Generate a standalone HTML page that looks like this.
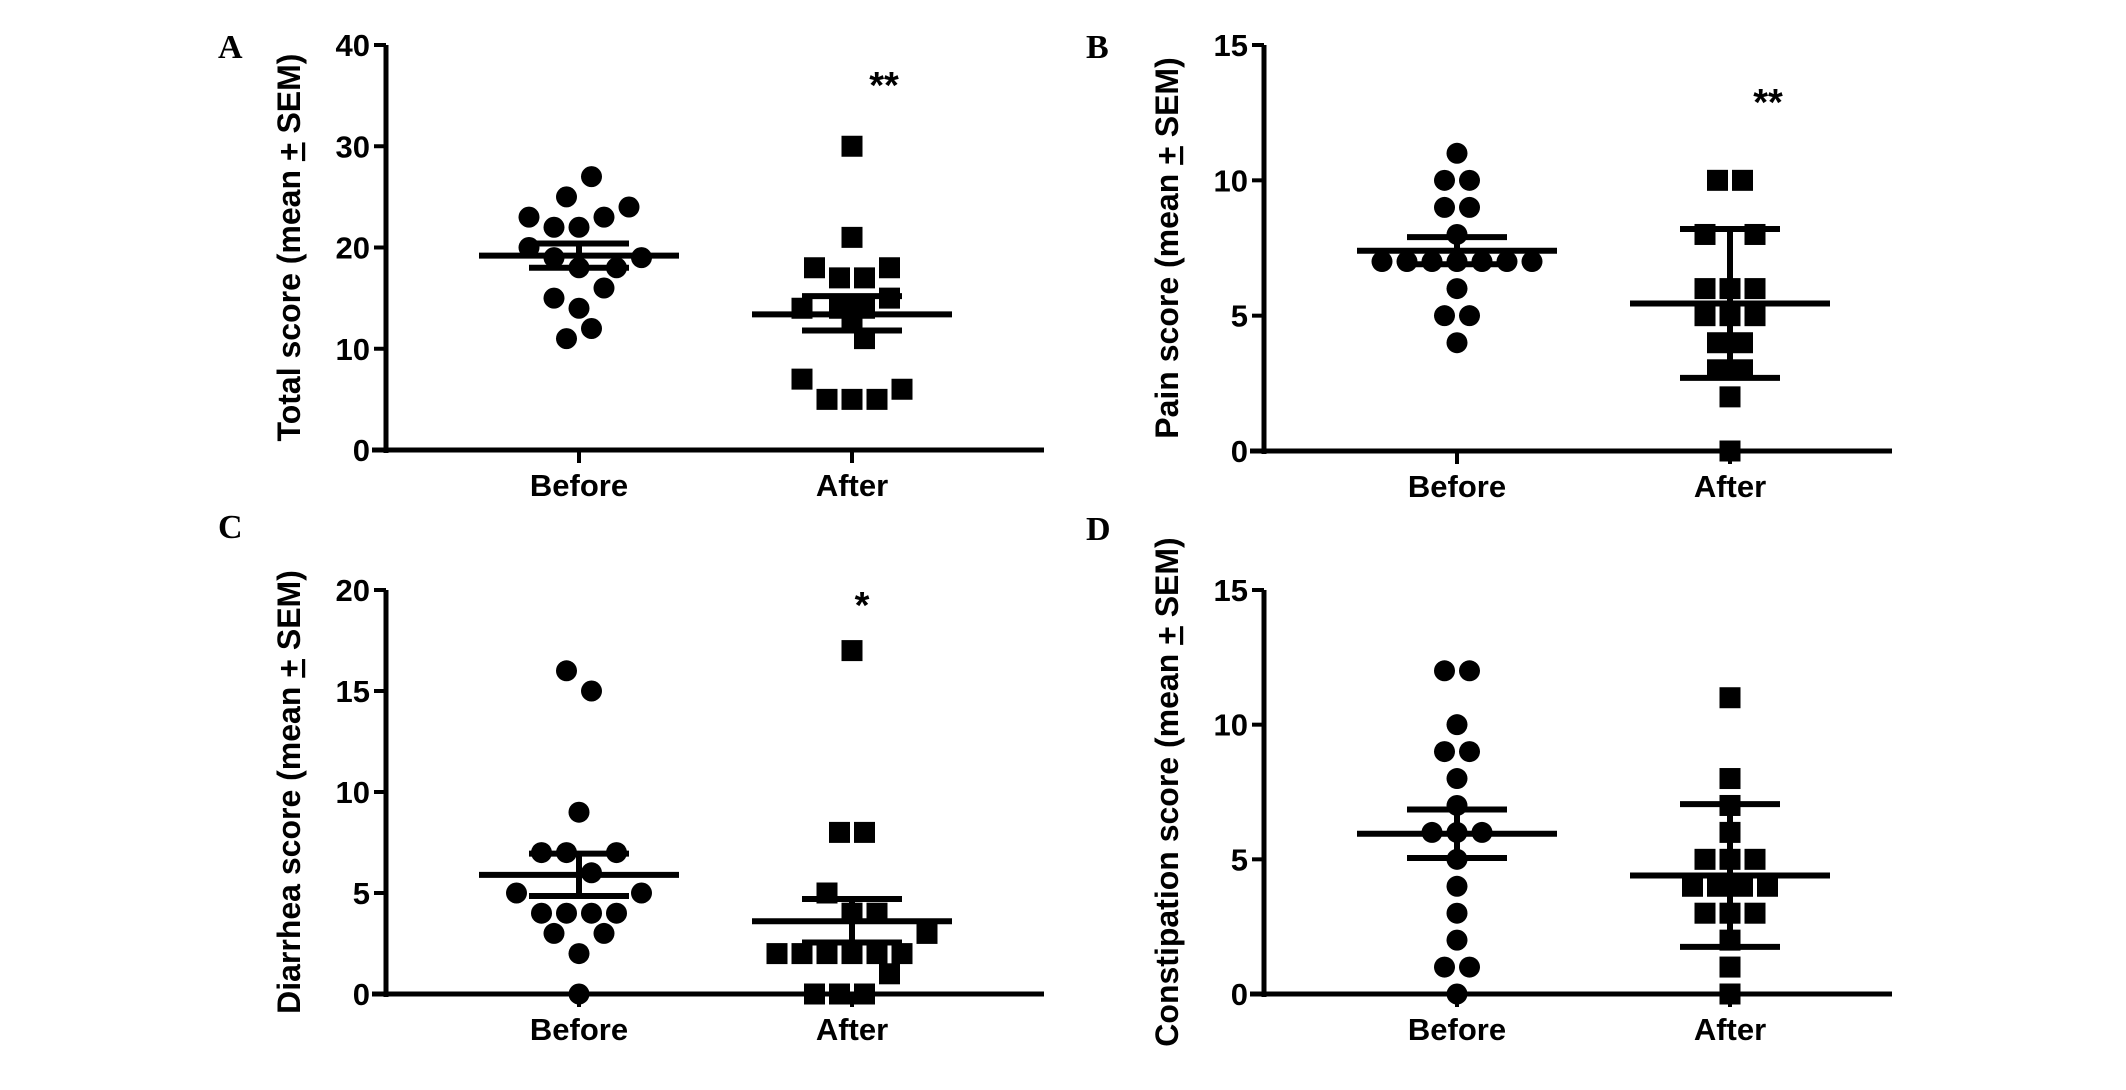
<!DOCTYPE html>
<html><head><meta charset="utf-8"><style>
html,body{margin:0;padding:0;background:#fff;}
svg{display:block;}
.tick{font-family:"Liberation Sans Narrow","Liberation Sans",sans-serif;font-weight:bold;font-size:31px;fill:#000;}
.ttl{font-family:"Liberation Sans",sans-serif;font-weight:bold;font-size:32px;fill:#000;}
.pl{font-family:"Liberation Serif",serif;font-weight:bold;font-size:34px;fill:#000;}
.star{font-family:"Liberation Sans",sans-serif;font-weight:bold;font-size:38px;fill:#000;}
</style></head><body>
<svg id="fig" width="2126" height="1090" viewBox="0 0 2126 1090" xmlns="http://www.w3.org/2000/svg"></svg>
<script>
// Panel A: Total score
const aCats=["Before","After"];
const aBeforeVals=[27,25,24,23,23,22,22,20,19,19,18,18,16,15,14,12,11];
const aBeforeCols=[1,-1,4,-4,2,-2,0,-4,-2,5,0,3,2,-2,0,1,-1];
const aAfterVals=[30,21,18,18,17,17,15,14,14,14,13,11,7,6,5,5,5];
const aAfterCols=[0,0,-3,3,-1,1,3,-4,-1,1,0,1,-4,4,-2,0,2];
const aMeans=[19.2,13.4];
const aLow=[18.0,11.8];
const aHigh=[20.4,15.2];
const aTicks=[0,10,20,30,40];
// Panel B: Pain score
const bBeforeVals=[11,10,10,9,9,8,7,7,7,7,7,7,7,6,5,5,4];
const bBeforeCols=[0,-1,1,-1,1,0,-6,-4,-2,0,2,4,6,0,-1,1,0];
const bAfterVals=[10,10,8,8,6,6,6,5,5,5,4,4,3,3,2,0];
const bAfterCols=[-1,1,-2,2,-2,0,2,-2,0,2,-1,1,-1,1,0,0];
const bMeans=[7.4,5.45];
const bLow=[6.9,2.7];
const bHigh=[7.9,8.2];
const bTicks=[0,5,10,15];
// Panel C: Diarrhea score
const cBeforeVals=[16,15,9,7,7,7,6,5,5,4,4,4,4,3,3,2,0];
const cBeforeCols=[-1,1,0,-3,-1,3,1,-5,5,-3,-1,1,3,-2,2,0,0];
const cAfterVals=[17,8,8,5,4,4,3,2,2,2,2,2,2,1,0,0,0];
const cAfterCols=[0,-1,1,-2,0,2,6,-6,-4,-2,0,2,4,3,-3,-1,1];
const cMeans=[5.9,3.6];
const cLow=[4.85,2.55];
const cHigh=[6.95,4.7];
const cTicks=[0,5,10,15,20];
// Panel D: Constipation score
const dBeforeVals=[12,12,10,9,9,8,7,6,6,6,5,4,3,2,1,1,0];
const dBeforeCols=[-1,1,0,-1,1,0,0,-2,0,2,0,0,0,0,-1,1,0];
const dAfterVals=[11,8,7,6,5,5,5,4,4,4,4,3,3,3,2,1,0];
const dAfterCols=[0,0,0,0,-2,0,2,-3,-1,1,3,-2,0,2,0,0,0];
const dMeans=[5.95,4.4];
const dLow=[5.05,1.75];
const dHigh=[6.85,7.05];
const dTicks=[0,5,10,15];

const NS="http://www.w3.org/2000/svg";
const svg=document.getElementById('fig');
function el(tag,attrs,parent){const e=document.createElementNS(NS,tag);for(const k in attrs)e.setAttribute(k,attrs[k]);(parent||svg).appendChild(e);return e;}

function panel(cfg){
  const g=el('g',{});
  
  
  const x0=cfg.ax, y0=cfg.y0, y1=cfg.y1, xEnd=cfg.xEnd, ymax=cfg.ticks[cfg.ticks.length-1];
  const ys=v=>y0-(v/ymax)*(y0-y1);
  const xs=[cfg.ax+193, cfg.ax+466];
  const ya=el('line',{x1:x0,y1:y1,x2:x0,y2:y0+3,stroke:'#000','stroke-width':5},g);
  
  
  const xa=el('line',{x1:x0-14,y1:y0,x2:xEnd,y2:y0,stroke:'#000','stroke-width':5},g);
  
  
  cfg.ticks.forEach(t=>{
    el('line',{x1:x0-12,y1:ys(t),x2:x0,y2:ys(t),stroke:'#000','stroke-width':4},g);
    const tx=el('text',{x:x0-16,y:ys(t)+11,'text-anchor':'end',class:'tick'},g);
    tx.textContent=t;
    
    
  });
  aCats.forEach((c,i)=>{
    el('line',{x1:xs[i],y1:y0,x2:xs[i],y2:y0+13,stroke:'#000','stroke-width':4},g);
    const tx=el('text',{x:xs[i],y:y0+46,'text-anchor':'middle',class:'tick'},g);
    tx.textContent=c;
    
    
  });
  const cy=(y0+y1)/2;
  const tt=el('text',{x:0,y:0,'text-anchor':'middle',class:'ttl',transform:`translate(${x0-86},${cy}) rotate(-90)`},g);
  
  
  tt.appendChild(document.createTextNode(cfg.title+' (mean '));
  const ts=el('tspan',{'text-decoration':'underline'},tt); ts.textContent='+';
  tt.appendChild(document.createTextNode(' SEM)'));
  const pl=el('text',{x:cfg.lx,y:cfg.ly,class:'pl'},g);
  pl.textContent=cfg.key.toUpperCase();
  
  
  const U=12.5, R=10.5;
  cfg.bv.forEach((v,i)=>{
    const c=el('circle',{cx:xs[0]+cfg.bc[i]*U,cy:ys(v),r:R,fill:'#000'},g);
    
    
  });
  cfg.av.forEach((v,i)=>{
    const s=el('rect',{x:xs[1]+cfg.ac[i]*U-R,y:ys(v)-R,width:2*R,height:2*R,fill:'#000'},g);
    
    
  });
  [0,1].forEach(i=>{
    const m=el('line',{x1:xs[i]-100,y1:ys(cfg.means[i]),x2:xs[i]+100,y2:ys(cfg.means[i]),stroke:'#000','stroke-width':6},g);
    
    
    const e=el('path',{d:`M${xs[i]},${ys(cfg.low[i])}V${ys(cfg.high[i])}M${xs[i]-50},${ys(cfg.low[i])}H${xs[i]+50}M${xs[i]-50},${ys(cfg.high[i])}H${xs[i]+50}`,stroke:'#000','stroke-width':6,fill:'none'},g);
    
    
  });
  if(cfg.star){
    const s=el('text',{x:xs[1]+cfg.sdx,y:cfg.sy,'text-anchor':'middle',class:'star'},g);
    s.textContent=cfg.star;
    
    
  }
}
panel({key:'a',ax:386,y0:450,y1:45,xEnd:1044,ticks:aTicks,title:'Total score',lx:218,ly:58,bv:aBeforeVals,bc:aBeforeCols,av:aAfterVals,ac:aAfterCols,means:aMeans,low:aLow,high:aHigh,star:'**',sdx:32,sy:98});
panel({key:'b',ax:1264,y0:451,y1:45,xEnd:1892,ticks:bTicks,title:'Pain score',lx:1086,ly:58,bv:bBeforeVals,bc:bBeforeCols,av:bAfterVals,ac:bAfterCols,means:bMeans,low:bLow,high:bHigh,star:'**',sdx:38,sy:115});
panel({key:'c',ax:386,y0:994,y1:590,xEnd:1044,ticks:cTicks,title:'Diarrhea score',lx:218,ly:538,bv:cBeforeVals,bc:cBeforeCols,av:cAfterVals,ac:cAfterCols,means:cMeans,low:cLow,high:cHigh,star:'*',sdx:10,sy:618});
panel({key:'d',ax:1264,y0:994,y1:590,xEnd:1892,ticks:dTicks,title:'Constipation score',lx:1086,ly:540,bv:dBeforeVals,bc:dBeforeCols,av:dAfterVals,ac:dAfterCols,means:dMeans,low:dLow,high:dHigh,star:null});
</script>
</body></html>
